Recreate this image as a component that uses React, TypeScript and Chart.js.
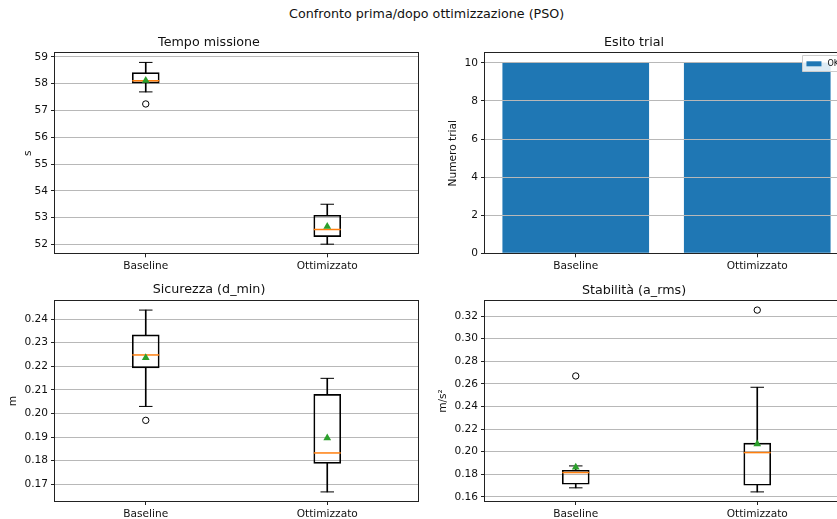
import React, { useEffect, useRef } from 'react';
import { Chart, registerables } from 'chart.js';

Chart.register(...registerables);

// ---------------- data ----------------
const SUPTITLE = 'Confronto prima/dopo ottimizzazione (PSO)';
const CATEGORIES = ['Baseline', 'Ottimizzato'];

// Tempo missione (s)
const TEMPO_TITLE = 'Tempo missione';
const TEMPO_UNIT = 's';
const TEMPO_WHISKER_LOW = [57.69, 52.01];
const TEMPO_Q1 = [58.02, 52.29];
const TEMPO_MEDIAN = [58.11, 52.56];
const TEMPO_Q3 = [58.41, 53.09];
const TEMPO_WHISKER_HIGH = [58.79, 53.5];
const TEMPO_MEAN = [58.12, 52.67];
const TEMPO_OUTLIERS = [57.24, null];
const TEMPO_TICKS = [52, 53, 54, 55, 56, 57, 58, 59];
const TEMPO_RANGE = [51.67, 59.13];

// Esito trial
const ESITO_TITLE = 'Esito trial';
const ESITO_UNIT = 'Numero trial';
const ESITO_LABEL = 'OK';
const ESITO_OK = [10, 10];
const ESITO_TICKS = [0, 2, 4, 6, 8, 10];
const ESITO_RANGE = [0, 10.5];

// Sicurezza (d_min)
const SIC_TITLE = 'Sicurezza (d_min)';
const SIC_UNIT = 'm';
const SIC_WHISKER_LOW = [0.203, 0.1668];
const SIC_Q1 = [0.2193, 0.1789];
const SIC_MEDIAN = [0.2248, 0.1833];
const SIC_Q3 = [0.2333, 0.2081];
const SIC_WHISKER_HIGH = [0.2438, 0.2149];
const SIC_MEAN = [0.2236, 0.1896];
const SIC_OUTLIERS = [0.1971, null];
const SIC_TICKS = [0.17, 0.18, 0.19, 0.2, 0.21, 0.22, 0.23, 0.24];
const SIC_RANGE = [0.16295, 0.24765];

// Stabilità (a_rms)
const STAB_TITLE = 'Stabilità (a_rms)';
const STAB_UNIT = 'm/s²';
const STAB_WHISKER_LOW = [0.168, 0.1644];
const STAB_Q1 = [0.1712, 0.1703];
const STAB_MEDIAN = [0.1815, 0.1992];
const STAB_Q3 = [0.1836, 0.2075];
const STAB_WHISKER_HIGH = [0.1874, 0.257];
const STAB_MEAN = [0.1863, 0.2068];
const STAB_OUTLIERS = [0.267, 0.3253];
const STAB_TICKS = [0.16, 0.18, 0.2, 0.22, 0.24, 0.26, 0.28, 0.3, 0.32];
const STAB_RANGE = [0.15635, 0.33335];

// ---------------- styling ----------------
const FONT = "'DejaVu Sans', sans-serif";
const TICK_SIZE = 10.6;
const TITLE_SIZE = 12.7;
const TEXT = '#111';
const BLUE = '#1f77b4';
const ORANGE = '#ff7f0e';
const GREEN = '#2ca02c';

type Panel = {
  x: number; y: number; w: number; h: number;
  l: number; t: number; r: number; b: number;
  titleY: number; ylabelX: number;
};

const framePlugin = {
  id: 'mplFrame',
  afterDraw(chart: any) {
    const { ctx, chartArea: a } = chart;
    ctx.save();
    ctx.strokeStyle = '#222';
    ctx.lineWidth = 1;
    ctx.strokeRect(Math.round(a.left) - 0.5, Math.round(a.top) - 0.5, Math.round(a.right) - Math.round(a.left) + 1, Math.round(a.bottom) - Math.round(a.top) + 1);
    ctx.restore();
  },
};

const legendPlugin = {
  id: 'mplLegend',
  afterDraw(chart: any) {
    const ds = chart.data.datasets[0];
    const a = chart.chartArea;
    const ctx = chart.ctx;
    ctx.save();
    ctx.font = `8px ${FONT}`;
    const tw = ctx.measureText(ds.label).width;
    const w = 4 + 15 + 6 + tw + 4;
    const h = 16;
    const right = a.right - 5;
    const left = right - w;
    const top = a.top + 2;
    ctx.fillStyle = 'rgba(255,255,255,0.85)';
    ctx.strokeStyle = '#cccccc';
    ctx.lineWidth = 1;
    ctx.beginPath();
    ctx.rect(Math.round(left) + 0.5, Math.round(top) + 0.5, w, h);
    ctx.fill();
    ctx.stroke();
    ctx.fillStyle = ds.backgroundColor;
    ctx.fillRect(left + 4, top + 6, 15, 5);
    ctx.fillStyle = TEXT;
    ctx.textBaseline = 'middle';
    ctx.textAlign = 'left';
    ctx.fillText(ds.label, left + 4 + 15 + 6, top + 8.5);
    ctx.restore();
  },
};

function pair(a: number[], b: number[]) {
  return a.map((v, i) => [v, b[i]]);
}

function boxDatasets(lo: number[], q1: number[], med: number[], q3: number[], hi: number[], mean: number[], out: (number | null)[]) {
  const pt = { type: 'line', showLine: false, borderWidth: 0 };
  return [
    { ...pt, label: 'mean', data: mean, pointStyle: 'triangle', pointRadius: 4.5, pointBackgroundColor: GREEN, pointBorderColor: GREEN, pointBorderWidth: 0 },
    { ...pt, label: 'median', data: med, pointStyle: 'line', pointRadius: 13.5, pointBorderColor: ORANGE, pointBorderWidth: 1.5 },
    { ...pt, label: 'outliers', data: out, pointStyle: 'circle', pointRadius: 3.2, pointBackgroundColor: 'rgba(0,0,0,0)', pointBorderColor: '#000', pointBorderWidth: 1 },
    { ...pt, label: 'capHigh', data: hi, pointStyle: 'line', pointRadius: 6.75, pointBorderColor: '#000', pointBorderWidth: 1 },
    { ...pt, label: 'capLow', data: lo, pointStyle: 'line', pointRadius: 6.75, pointBorderColor: '#000', pointBorderWidth: 1 },
    { type: 'bar', label: 'whiskerHigh', data: pair(q3, hi), backgroundColor: '#000', borderWidth: 0, barThickness: 1, grouped: false },
    { type: 'bar', label: 'whiskerLow', data: pair(lo, q1), backgroundColor: '#000', borderWidth: 0, barThickness: 1, grouped: false },
    { type: 'bar', label: 'box', data: pair(q1, q3), backgroundColor: 'rgba(0,0,0,0)', borderColor: '#000', borderWidth: 1, borderSkipped: false, barThickness: 27, grouped: false },
  ];
}

function makeConfig(p: Panel, title: string, unit: string, range: number[], ticks: number[], fmt: (v: number) => string, datasets: any[], plugins: any[], gridOnTop: boolean) {
  const titleLH = TITLE_SIZE * 1.2;
  const axisLH = TICK_SIZE * 1.2;
  const titlePadTop = p.titleY - p.y - titleLH / 2;
  const titlePadBottom = p.t - p.y - titlePadTop - titleLH;
  const yW = p.l - p.x;
  const xH = p.y + p.h - p.b;
  const padRight = p.x + p.w - p.r;
  const font = { family: FONT, size: TICK_SIZE };
  return {
    type: 'bar',
    data: { labels: CATEGORIES, datasets },
    plugins: [framePlugin, ...plugins],
    options: {
      responsive: false,
      maintainAspectRatio: false,
      animation: false,
      events: [],
      layout: { autoPadding: false, padding: { left: 0, right: padRight, top: 0, bottom: 0 } },
      plugins: {
        legend: { display: false },
        tooltip: { enabled: false },
        title: {
          display: true,
          text: title,
          color: TEXT,
          font: { family: FONT, size: TITLE_SIZE, weight: 'normal' },
          padding: { top: titlePadTop, bottom: titlePadBottom },
        },
      },
      scales: {
        x: {
          type: 'category',
          offset: true,
          border: { display: false },
          grid: { display: true, offset: false, drawOnChartArea: false, color: 'rgba(0,0,0,0)', tickColor: '#222', tickLength: 4, tickWidth: 1 },
          ticks: { font, color: TEXT, padding: 3, autoSkip: false, maxRotation: 0 },
          afterFit: (s: any) => { s.height = xH; s.paddingLeft = 0; s.paddingRight = 0; },
        },
        y: {
          type: 'linear',
          min: range[0],
          max: range[1],
          border: { display: false },
          grid: { color: '#b8b8b8', tickColor: '#222', tickLength: 4, lineWidth: 1, z: gridOnTop ? 1 : 0 },
          ticks: { font, color: TEXT, padding: 3, autoSkip: false, callback: (v: any) => fmt(Number(v)) },
          afterBuildTicks: (s: any) => { s.ticks = ticks.map((v) => ({ value: v })); },
          title: { display: true, text: unit, color: TEXT, font, padding: { top: p.ylabelX - p.x - axisLH / 2, bottom: 0 } },
          afterFit: (s: any) => { s.width = yW; },
        },
      },
    },
  };
}

function ChartPanel({ panel, config }: { panel: Panel; config: any }) {
  const ref = useRef<HTMLCanvasElement | null>(null);
  useEffect(() => {
    if (!ref.current) return;
    const chart = new Chart(ref.current, config);
    return () => chart.destroy();
  }, []);
  return (
    <canvas
      ref={ref}
      width={panel.w}
      height={panel.h}
      style={{ position: 'absolute', left: panel.x, top: panel.y, width: panel.w, height: panel.h }}
    />
  );
}

const PANEL_TL: Panel = { x: 0, y: 22, w: 420, h: 255, l: 55, t: 53.3, r: 418, b: 253.3, titleY: 42.5, ylabelX: 28 };
const PANEL_TR: Panel = { x: 420, y: 22, w: 430, h: 255, l: 485, t: 53.3, r: 848, b: 253.3, titleY: 42.5, ylabelX: 453.3 };
const PANEL_BL: Panel = { x: 0, y: 270, w: 420, h: 249, l: 55, t: 301, r: 418, b: 501, titleY: 290, ylabelX: 13.5 };
const PANEL_BR: Panel = { x: 420, y: 270, w: 430, h: 249, l: 485, t: 301, r: 848, b: 501, titleY: 290.5, ylabelX: 443.3 };

const intFmt = (v: number) => String(Math.round(v));
const dec2 = (v: number) => v.toFixed(2);

export default function App() {
  const tempoCfg = makeConfig(PANEL_TL, TEMPO_TITLE, TEMPO_UNIT, TEMPO_RANGE, TEMPO_TICKS, intFmt,
    boxDatasets(TEMPO_WHISKER_LOW, TEMPO_Q1, TEMPO_MEDIAN, TEMPO_Q3, TEMPO_WHISKER_HIGH, TEMPO_MEAN, TEMPO_OUTLIERS), [], false);
  const esitoCfg = makeConfig(PANEL_TR, ESITO_TITLE, ESITO_UNIT, ESITO_RANGE, ESITO_TICKS, intFmt,
    [{ type: 'bar', label: ESITO_LABEL, data: ESITO_OK, backgroundColor: BLUE, borderWidth: 0, barPercentage: 0.808, categoryPercentage: 1 }], [legendPlugin], true);
  const sicCfg = makeConfig(PANEL_BL, SIC_TITLE, SIC_UNIT, SIC_RANGE, SIC_TICKS, dec2,
    boxDatasets(SIC_WHISKER_LOW, SIC_Q1, SIC_MEDIAN, SIC_Q3, SIC_WHISKER_HIGH, SIC_MEAN, SIC_OUTLIERS), [], false);
  const stabCfg = makeConfig(PANEL_BR, STAB_TITLE, STAB_UNIT, STAB_RANGE, STAB_TICKS, dec2,
    boxDatasets(STAB_WHISKER_LOW, STAB_Q1, STAB_MEDIAN, STAB_Q3, STAB_WHISKER_HIGH, STAB_MEAN, STAB_OUTLIERS), [], false);

  return (
    <div style={{ position: 'absolute', left: 0, top: 0, width: 837, height: 519, overflow: 'hidden', background: '#fff' }}>
      <div style={{ position: 'absolute', left: 426.7, top: 5, transform: 'translateX(-50%)', whiteSpace: 'nowrap', fontFamily: FONT, fontSize: TITLE_SIZE, lineHeight: '18px', color: TEXT }}>
        {SUPTITLE}
      </div>
      <ChartPanel panel={PANEL_TL} config={tempoCfg} />
      <ChartPanel panel={PANEL_TR} config={esitoCfg} />
      <ChartPanel panel={PANEL_BL} config={sicCfg} />
      <ChartPanel panel={PANEL_BR} config={stabCfg} />
    </div>
  );
}
